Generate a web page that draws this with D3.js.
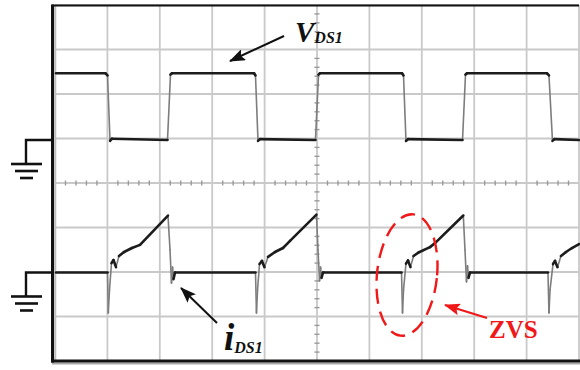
<!DOCTYPE html>
<html>
<head>
<meta charset="utf-8">
<script src="https://cdn.jsdelivr.net/npm/d3@7"></script>
<style>
html, body { margin: 0; padding: 0; background: #fff; }
svg { display: block; }
</style>
</head>
<body>
<div id="scope"></div>
<script>
// screen grid: 10 x 8 divisions
const xDivs = d3.range(0, 11);
const yDivs = d3.range(-4, 5);

// channel ground positions (in divisions from screen centre)
const ch1Ground = 0.966;
const ch2Ground = -2.011;

// V_DS1 trace: [time div, level div above ground]
const vdsTrace = [
  [0.019, 1.5], [0.964, 1.5], [1.002, 1.45], [1.050, -0.02], [1.088, 0.03], [2.147, 0],
  [2.204, 1.47], [2.233, 1.5], [3.798, 1.5], [3.826, 1.45], [3.874, -0.02], [3.912, 0.02], [4.971, 0],
  [5.029, 1.47], [5.057, 1.5], [6.622, 1.5], [6.651, 1.45], [6.698, -0.02], [6.737, 0.02], [7.777, 0],
  [7.834, 1.47], [7.863, 1.5], [9.389, 1.5], [9.427, 1.45], [9.494, -0.02], [9.532, 0.02], [10.0, 0]
];

// i_DS1 trace: [time div, level div above ground]
const idsTrace = [
  [0.019, 0], [1.002, 0], [1.017, -0.91], [1.040, -0.39], [1.078, 0.21], [1.116, 0.28], [1.164, 0.12],
  [1.221, 0.37], [1.317, 0.46], [1.469, 0.55], [1.622, 0.62], [2.156, 1.28], [2.195, 0.51], [2.223, -0.24],
  [2.242, 0.12], [2.261, -0.15], [2.290, 0],
  [3.826, 0], [3.845, -0.91], [3.865, -0.39], [3.903, 0.19], [3.950, 0.26], [3.998, 0.12], [4.065, 0.35],
  [4.198, 0.46], [4.351, 0.55], [4.485, 0.71], [4.990, 1.30], [5.019, 0.51], [5.048, -0.19], [5.067, 0.12],
  [5.086, -0.12], [5.115, 0],
  [6.613, 0], [6.632, -0.91], [6.651, -0.39], [6.698, 0.20], [6.737, 0.27], [6.784, 0.12], [6.842, 0.37],
  [6.937, 0.45], [7.156, 0.57], [7.252, 0.66], [7.792, 1.28], [7.824, 0.51], [7.853, -0.21], [7.872, 0.15],
  [7.891, -0.12], [7.920, 0],
  [9.408, 0], [9.427, -0.91], [9.447, -0.39], [9.504, 0.19], [9.542, 0.26], [9.590, 0.12], [9.656, 0.37],
  [9.752, 0.46], [9.866, 0.55], [10.0, 0.64]
];

const width = 580, height = 370;
const svg = d3.select("#scope").append("svg").attr("width", width).attr("height", height);

const x = d3.scaleLinear().domain([0, 10]).range([55, 579]);
const y = d3.scaleLinear().domain([-4, 4]).range([361, 5]);

// grid
const grid = svg.append("g").attr("stroke", "#c9c9c9").attr("stroke-width", 1.8);
grid.selectAll("line.v").data(xDivs).enter().append("line").attr("class", "v")
  .attr("x1", d => x(d)).attr("x2", d => x(d)).attr("y1", y(4)).attr("y2", y(-4));
grid.selectAll("line.h").data(yDivs).enter().append("line").attr("class", "h")
  .attr("x1", x(0)).attr("x2", x(10)).attr("y1", d => y(d)).attr("y2", d => y(d));

// minor ticks on the centre axes
const ticks = svg.append("g").attr("stroke", "#9a9a9a").attr("stroke-width", 1.4);
ticks.selectAll("line.tx").data(d3.range(1, 50).filter(k => k % 5)).enter().append("line")
  .attr("x1", k => x(k / 5)).attr("x2", k => x(k / 5)).attr("y1", y(0) - 2.5).attr("y2", y(0) + 2.5);
ticks.selectAll("line.ty").data(d3.range(-19, 20).filter(k => k % 5)).enter().append("line")
  .attr("y1", k => y(k / 5)).attr("y2", k => y(k / 5)).attr("x1", x(5) - 2.5).attr("x2", x(5) + 2.5);

// frame
svg.append("line").attr("x1", 55.5).attr("x2", 55.5).attr("y1", 6).attr("y2", 360).attr("stroke", "#bdbdbd").attr("stroke-width", 1.5);
svg.append("line").attr("x1", 52).attr("x2", 580).attr("y1", 363.5).attr("y2", 363.5).attr("stroke", "#a8a8a8").attr("stroke-width", 2);
svg.append("line").attr("x1", 52).attr("x2", 579).attr("y1", 5.5).attr("y2", 5.5).attr("stroke", "#111").attr("stroke-width", 2);
svg.append("line").attr("x1", 52.5).attr("x2", 52.5).attr("y1", 4.5).attr("y2", 362.5).attr("stroke", "#111").attr("stroke-width", 3);
svg.append("line").attr("x1", 51).attr("x2", 580).attr("y1", 361).attr("y2", 361).attr("stroke", "#111").attr("stroke-width", 3);

// traces: steep edges are faint and thin, slow parts dark and thick
function drawTrace(data, ground) {
  const pts = data.map(d => [x(d[0]), y(ground + d[1])]);
  const segs = d3.pairs(pts).map(([a, b]) => ({a, b, fast: Math.abs(b[1] - a[1]) > 2 * Math.abs(b[0] - a[0]) && Math.abs(b[1] - a[1]) > 8}));
  const g = svg.append("g").attr("stroke-linecap", "round");
  g.selectAll("line.fast").data(segs.filter(s => s.fast)).enter().append("line").attr("class", "fast")
    .attr("x1", s => s.a[0]).attr("y1", s => s.a[1]).attr("x2", s => s.b[0]).attr("y2", s => s.b[1])
    .attr("stroke", "#7d7d7d").attr("stroke-width", 1.6);
  g.selectAll("line.slow").data(segs.filter(s => !s.fast)).enter().append("line").attr("class", "slow")
    .attr("x1", s => s.a[0]).attr("y1", s => s.a[1]).attr("x2", s => s.b[0]).attr("y2", s => s.b[1])
    .attr("stroke", "#1c1c1c").attr("stroke-width", 2.6);
}
drawTrace(vdsTrace, ch1Ground);
drawTrace(idsTrace, ch2Ground);

// ground symbols
function ground(level) {
  const gy = y(level);
  const g = svg.append("g").attr("stroke", "#111").attr("stroke-width", 2.4).attr("fill", "none");
  g.append("path").attr("d", "M51," + gy + "H26V" + (gy + 24));
  [[31, 0], [23, 7], [13, 14]].forEach(([w, dy]) => {
    g.append("line").attr("x1", 26.5 - w / 2).attr("x2", 26.5 + w / 2)
      .attr("y1", gy + 24 + dy).attr("y2", gy + 24 + dy).attr("stroke-width", 2.6);
  });
}
ground(ch1Ground);
ground(ch2Ground);

// arrows
const defs = svg.append("defs");
defs.append("marker").attr("id", "ab").attr("viewBox", "0 0 16 12").attr("refX", 15).attr("refY", 6)
  .attr("markerWidth", 16).attr("markerHeight", 12).attr("markerUnits", "userSpaceOnUse").attr("orient", "auto")
  .append("path").attr("d", "M0,0L16,6L0,12L3,6z").attr("fill", "#111");
defs.append("marker").attr("id", "ar").attr("viewBox", "0 0 16 12").attr("refX", 15).attr("refY", 6)
  .attr("markerWidth", 16).attr("markerHeight", 12).attr("markerUnits", "userSpaceOnUse").attr("orient", "auto")
  .append("path").attr("d", "M0,0L16,6L0,12L3,6z").attr("fill", "#f01818");

svg.append("line").attr("x1", 284).attr("y1", 36).attr("x2", 230).attr("y2", 61)
  .attr("stroke", "#111").attr("stroke-width", 2).attr("marker-end", "url(#ab)");
svg.append("line").attr("x1", 217).attr("y1", 323).attr("x2", 181).attr("y2", 288)
  .attr("stroke", "#111").attr("stroke-width", 2).attr("marker-end", "url(#ab)");
svg.append("line").attr("x1", 487).attr("y1", 318).attr("x2", 445).attr("y2", 305)
  .attr("stroke", "#f01818").attr("stroke-width", 2.2).attr("marker-end", "url(#ar)");

// ZVS ellipse
svg.append("ellipse").attr("cx", 407).attr("cy", 275).attr("rx", 30).attr("ry", 61)
  .attr("transform", "rotate(6,407,275)")
  .attr("fill", "none").attr("stroke", "#f01818").attr("stroke-width", 2.4)
  .attr("stroke-dasharray", "15,8");

// labels
const serif = "'Liberation Serif', 'Times New Roman', serif";
const vLab = svg.append("text").attr("x", 295).attr("y", 42).attr("font-family", serif)
  .attr("font-weight", "bold").attr("font-style", "italic").attr("fill", "#111");
vLab.append("tspan").attr("font-size", 29).text("V");
vLab.append("tspan").attr("font-size", 16).attr("dy", 1).text("DS1");

const iLab = svg.append("text").attr("x", 224).attr("y", 350).attr("font-family", serif)
  .attr("font-weight", "bold").attr("font-style", "italic").attr("fill", "#111");
iLab.append("tspan").attr("font-size", 37).text("i");
iLab.append("tspan").attr("font-size", 16).attr("dy", 3).text("DS1");

svg.append("text").attr("x", 489).attr("y", 338).attr("font-family", serif)
  .attr("font-weight", "bold").attr("font-size", 25).attr("fill", "#f01818").text("ZVS");
</script>
</body>
</html>
